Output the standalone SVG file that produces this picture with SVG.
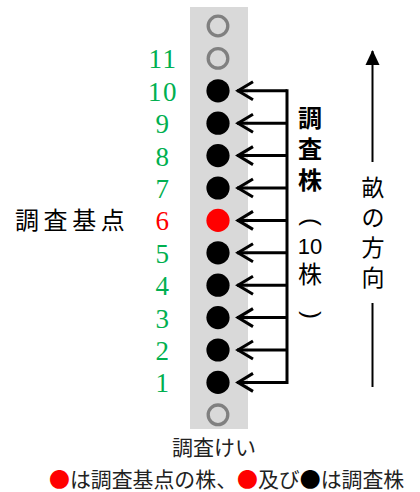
<svg xmlns="http://www.w3.org/2000/svg" width="420" height="492" viewBox="0 0 420 492">
<style>
.num{font-family:"Liberation Serif",serif;font-size:27px;fill:#00b050;text-anchor:middle;letter-spacing:1.5px}
.cjk{font-family:"Noto Sans CJK JP",sans-serif}
.hollow{fill:none;stroke:#808080;stroke-width:3.3}
.dot{fill:#000}
.conn line{stroke:#000;stroke-width:3}
.paren{font-family:"Liberation Sans",sans-serif;font-size:24px;text-anchor:middle}
</style>
<defs>
<marker id="ah" markerWidth="20" markerHeight="22" refX="18" refY="11" orient="auto" markerUnits="userSpaceOnUse">
<path d="M2,2 L17,11 L2,20" fill="none" stroke="#000" stroke-width="3"/>
</marker>
<marker id="up" markerWidth="16" markerHeight="16" refX="14" refY="8" orient="auto" markerUnits="userSpaceOnUse">
<path d="M0,1 L15,8 L0,15 Z" fill="#000"/>
</marker>
</defs>
<rect id="row" x="190" y="7" width="58" height="422" fill="#d9d9d9"/>
<g id="plants">
<circle class="hollow" cx="218" cy="26" r="9.8"/>
<circle class="hollow" cx="218" cy="58.4" r="9.8"/>
<circle class="dot" cx="218" cy="90.8" r="11.6"/>
<circle class="dot" cx="218" cy="123.2" r="11.6"/>
<circle class="dot" cx="218" cy="155.6" r="11.6"/>
<circle class="dot" cx="218" cy="188" r="11.6"/>
<circle cx="218" cy="220.4" r="11.6" fill="#ff0000"/>
<circle class="dot" cx="218" cy="252.8" r="11.6"/>
<circle class="dot" cx="218" cy="285.2" r="11.6"/>
<circle class="dot" cx="218" cy="317.6" r="11.6"/>
<circle class="dot" cx="218" cy="350" r="11.6"/>
<circle class="dot" cx="218" cy="382.4" r="11.6"/>
<circle class="hollow" cx="218" cy="414.8" r="9.8"/>
</g>
<g id="numbers">
<text class="num" x="163" y="68.4">11</text>
<text class="num" x="163" y="100.8">10</text>
<text class="num" x="163" y="133.2">9</text>
<text class="num" x="163" y="165.6">8</text>
<text class="num" x="163" y="198">7</text>
<text class="num" x="163" y="230.4" style="fill:#ff0000">6</text>
<text class="num" x="163" y="262.8">5</text>
<text class="num" x="163" y="295.2">4</text>
<text class="num" x="163" y="327.6">3</text>
<text class="num" x="163" y="360">2</text>
<text class="num" x="163" y="392.4">1</text>
</g>
<g id="connectors" class="conn">
<line x1="287" y1="89.3" x2="287" y2="383.9"/>
<line x1="287" y1="90.8" x2="237" y2="90.8" marker-end="url(#ah)"/>
<line x1="287" y1="123.2" x2="237" y2="123.2" marker-end="url(#ah)"/>
<line x1="287" y1="155.6" x2="237" y2="155.6" marker-end="url(#ah)"/>
<line x1="287" y1="188" x2="237" y2="188" marker-end="url(#ah)"/>
<line x1="287" y1="220.4" x2="237" y2="220.4" marker-end="url(#ah)"/>
<line x1="287" y1="252.8" x2="237" y2="252.8" marker-end="url(#ah)"/>
<line x1="287" y1="285.2" x2="237" y2="285.2" marker-end="url(#ah)"/>
<line x1="287" y1="317.6" x2="237" y2="317.6" marker-end="url(#ah)"/>
<line x1="287" y1="350" x2="237" y2="350" marker-end="url(#ah)"/>
<line x1="287" y1="382.4" x2="237" y2="382.4" marker-end="url(#ah)"/>
</g>
<g id="base-label">
<text class="cjk" x="15" y="229" font-size="24" letter-spacing="4.6" fill="#000">調査基点</text>
</g>
<g id="sample-label" class="cjk" text-anchor="middle" fill="#000">
<text x="310" y="127" font-size="24" font-weight="bold">調</text>
<text x="310" y="158" font-size="24" font-weight="bold">査</text>
<text x="310" y="189" font-size="24" font-weight="bold">株</text>
<text class="paren" transform="translate(310,222) rotate(90)" x="0" y="6">(</text>
<text x="310" y="254" font-size="22" font-family="Liberation Sans, sans-serif">10</text>
<text x="310" y="283" font-size="24">株</text>
<text class="paren" transform="translate(310,315) rotate(90)" x="0" y="6">)</text>
</g>
<g id="direction">
<g class="cjk" text-anchor="middle" font-size="23" fill="#000">
<text x="373" y="196">畝</text>
<text x="373" y="226">の</text>
<text x="373" y="256">方</text>
<text x="373" y="286">向</text>
</g>
<line x1="372.5" y1="162" x2="372.5" y2="51" stroke="#000" stroke-width="2" marker-end="url(#up)"/>
<line x1="372.5" y1="303" x2="372.5" y2="387" stroke="#000" stroke-width="2"/>
</g>
<g id="captions" class="cjk" fill="#222">
<text x="172" y="455" font-size="21">調査けい</text>
<text x="49" y="487" font-size="20.9"><tspan fill="#ff0000">●</tspan>は調査基点の株、<tspan fill="#ff0000">●</tspan>及び<tspan fill="#000">●</tspan>は調査株</text>
</g>
</svg>
